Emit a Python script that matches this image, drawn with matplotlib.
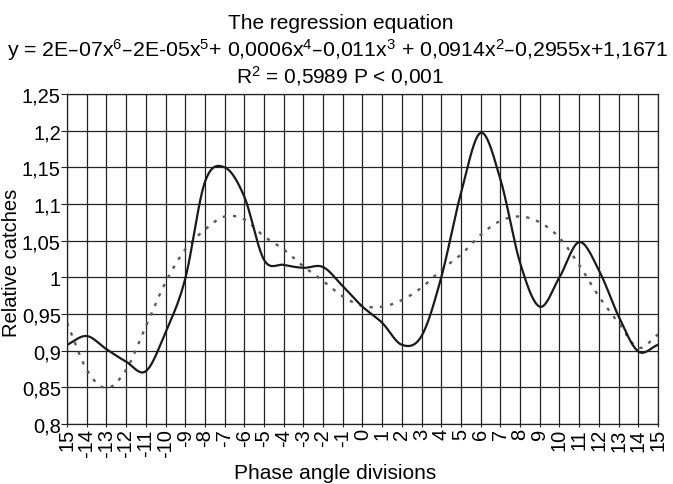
import numpy as np
import matplotlib.pyplot as plt

plt.rcParams['font.family'] = ['Liberation Sans', 'DejaVu Sans']
plt.rcParams['mathtext.default'] = 'regular'

# phase angle divisions (-15 .. 15)
phase = list(range(-15, 16))
# tick labels as printed (first one shows no minus)
phase_labels = ['15', '-14', '-13', '-12', '-11', '-10', '-9', '-8', '-7', '-6',
                '-5', '-4', '-3', '-2', '-1', '0', '1', '2', '3', '4', '5', '6',
                '7', '8', '9', '10', '11', '12', '13', '14', '15']

catches = [0.908, 0.920, 0.902, 0.885, 0.872, 0.925, 0.998, 1.130, 1.150, 1.110,
           1.024, 1.017, 1.013, 1.014, 0.988, 0.960, 0.938, 0.908, 0.920, 1.000,
           1.115, 1.197, 1.134, 1.020, 0.960, 1.000, 1.048, 1.010, 0.947, 0.899,
           0.908]

trend = [0.938, 0.874, 0.849, 0.874, 0.933, 0.993, 1.038, 1.065, 1.083, 1.079,
         1.056, 1.038, 1.015, 0.995, 0.974, 0.961, 0.960, 0.969, 0.986, 1.010,
         1.031, 1.058, 1.077, 1.083, 1.075, 1.054, 1.017, 0.974, 0.938, 0.904,
         0.922]

yticks = [0.8, 0.85, 0.9, 0.95, 1.0, 1.05, 1.1, 1.15, 1.2, 1.25]
ytick_labels = ['0,8', '0,85', '0,9', '0,95', '1', '1,05', '1,1', '1,15', '1,2', '1,25']


def smooth(x, y, n=20):
    # catmull-rom style smoothing like excel's "smoothed line"
    x = np.asarray(x, float)
    y = np.asarray(y, float)
    px = np.concatenate([[2 * x[0] - x[1]], x, [2 * x[-1] - x[-2]]])
    py = np.concatenate([[2 * y[0] - y[1]], y, [2 * y[-1] - y[-2]]])
    xs, ys = [], []
    t = np.linspace(0, 1, n, endpoint=False)
    for i in range(1, len(px) - 2):
        for p, out in ((px, xs), (py, ys)):
            p0, p1, p2, p3 = p[i - 1], p[i], p[i + 1], p[i + 2]
            out.extend(0.5 * (2 * p1 + (-p0 + p2) * t
                              + (2 * p0 - 5 * p1 + 4 * p2 - p3) * t ** 2
                              + (-p0 + 3 * p1 - 3 * p2 + p3) * t ** 3))
    xs.append(x[-1])
    ys.append(y[-1])
    return np.array(xs), np.array(ys)


fig = plt.figure(figsize=(6.73, 4.85), dpi=100)
ax = fig.add_axes([0.0996, 0.1237, 0.878, 0.6804])

tx, ty = smooth(phase, trend)
ax.plot(tx, ty, color='#5a5a5a', lw=1.7, ls=(0, (1.4, 3.0)))
sx, sy = smooth(phase, catches)
ax.plot(sx, sy, color='#1a1a1a', lw=1.6)

ax.set_xlim(-15, 15)
ax.set_ylim(0.8, 1.25)
ax.set_xticks(phase)
ax.set_xticklabels(phase_labels, rotation=90, fontsize=14.5)
ax.set_yticks(yticks)
ax.set_yticklabels(ytick_labels, fontsize=14.5)
ax.grid(True, color='#222222', lw=0.9)
ax.tick_params(axis='y', length=4, color='#222222', pad=0.5)
ax.tick_params(axis='x', length=2, color='#222222', pad=1)
for s in ax.spines.values():
    s.set_color('#222222')
    s.set_linewidth(0.9)

fig.text(335 / 673, 1 - 479 / 485, 'Phase angle divisions', ha='center',
         va='baseline', fontsize=15)
fig.text(17.5 / 673, 1 - 263 / 485, 'Relative catches', rotation=90,
         rotation_mode='anchor', ha='center', va='baseline', fontsize=14.5)

fig.text(341 / 673, 1 - 29 / 485, 'The regression equation', ha='center',
         va='baseline', fontsize=15)
fig.text(338 / 673, 1 - 57 / 485,
         'y = 2E–07x$^6$–2E-05x$^5$+ 0,0006x$^4$–0,011x$^3$ + 0,0914x$^2$–0,2955x+1,1671',
         ha='center', va='baseline', fontsize=15.3)
fig.text(340 / 673, 1 - 83 / 485, 'R$^2$ = 0,5989 P < 0,001', ha='center',
         va='baseline', fontsize=15)

fig.savefig('out.png', dpi=100)
